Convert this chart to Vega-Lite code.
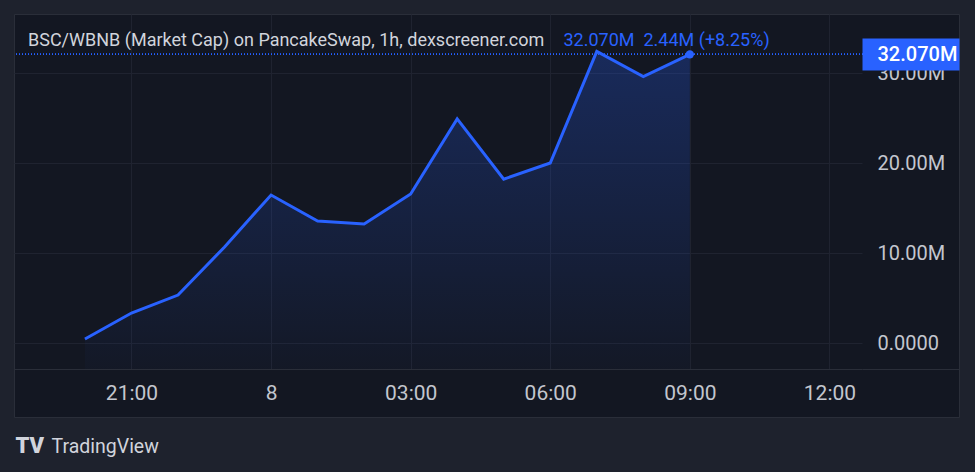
{
  "$schema": "https://vega.github.io/schema/vega-lite/v6.json",
  "width": 945,
  "height": 403,
  "autosize": "none",
  "padding": {"left": 14, "top": 14, "right": 16, "bottom": 55},
  "background": "#1e222d",
  "config": {
    "view": {"fill": "#131722", "stroke": "#2a2e39", "strokeWidth": 1},
    "font": "Roboto",
    "axis": {"labelFont": "Roboto", "titleFont": "Roboto"}
  },
  "title": {
    "text": "BSC/WBNB (Market Cap) on PancakeSwap, 1h, dexscreener.com",
    "anchor": "start",
    "frame": "group",
    "orient": "top",
    "offset": 0,
    "dx": 14,
    "dy": 50,
    "baseline": "alphabetic",
    "font": "Roboto",
    "fontSize": 18,
    "fontWeight": "normal",
    "color": "#d1d4dc"
  },
  "data": {
    "values": [
      {"t": "2024-03-07T20:00:00Z", "v": 440000},
      {"t": "2024-03-07T21:00:00Z", "v": 3330000},
      {"t": "2024-03-07T22:00:00Z", "v": 5330000},
      {"t": "2024-03-07T23:00:00Z", "v": 10670000},
      {"t": "2024-03-08T00:00:00Z", "v": 16440000},
      {"t": "2024-03-08T01:00:00Z", "v": 13560000},
      {"t": "2024-03-08T02:00:00Z", "v": 13220000},
      {"t": "2024-03-08T03:00:00Z", "v": 16560000},
      {"t": "2024-03-08T04:00:00Z", "v": 24900000},
      {"t": "2024-03-08T05:00:00Z", "v": 18200000},
      {"t": "2024-03-08T06:00:00Z", "v": 20000000},
      {"t": "2024-03-08T07:00:00Z", "v": 32400000},
      {"t": "2024-03-08T08:00:00Z", "v": 29600000},
      {"t": "2024-03-08T09:00:00Z", "v": 32070000}
    ]
  },
  "resolve": {"axis": {"y": "independent"}},
  "layer": [
    {
      "mark": {
        "type": "area",
        "line": false,
        "color": {
          "gradient": "linear",
          "x1": 0, "y1": 0, "x2": 0, "y2": 1,
          "stops": [
            {"offset": 0, "color": "rgba(41,98,255,0.26)"},
            {"offset": 1, "color": "rgba(41,98,255,0.02)"}
          ]
        }
      },
      "encoding": {
        "x": {
          "field": "t", "type": "temporal",
          "scale": {
            "type": "utc",
            "domain": [
              {"year": 2024, "month": 3, "date": 7, "hours": 18, "minutes": 28, "seconds": 30, "utc": true},
              {"year": 2024, "month": 3, "date": 8, "hours": 12, "minutes": 42, "seconds": 0, "utc": true}
            ],
            "range": [0, 848]
          },
          "axis": {
            "orient": "top",
            "values": [
              {"year": 2024, "month": 3, "date": 7, "hours": 21, "utc": true},
              {"year": 2024, "month": 3, "date": 8, "hours": 0, "utc": true},
              {"year": 2024, "month": 3, "date": 8, "hours": 3, "utc": true},
              {"year": 2024, "month": 3, "date": 8, "hours": 6, "utc": true},
              {"year": 2024, "month": 3, "date": 8, "hours": 9, "utc": true},
              {"year": 2024, "month": 3, "date": 8, "hours": 12, "utc": true}
            ],
            "labelExpr": "utchours(datum.value) == 0 ? utcFormat(datum.value, '%-d') : utcFormat(datum.value, '%H:%M')",
            "labelFontSize": 21,
            "labelColor": "#c3c6ce",
            "labelBaseline": "middle",
            "labelPadding": -379,
            "labelFlush": false,
            "labelOverlap": false,
            "ticks": false,
            "tickSize": 0,
            "domain": false,
            "grid": true,
            "gridColor": "#1f2330",
            "gridWidth": 1,
            "title": "TradingView",
            "titleX": 37,
            "titleY": 438,
            "titleAlign": "left",
            "titleBaseline": "alphabetic",
            "titleAnchor": null,
            "titleFontSize": 19.5,
            "titleFontWeight": "normal",
            "titleColor": "#d1d4dc"
          }
        },
        "y": {
          "field": "v", "type": "quantitative",
          "scale": {"domain": [-2888889, 36555556], "range": [355, 0], "nice": false, "zero": false},
          "axis": {
            "orient": "left",
            "values": [-2888889, 0, 10000000, 20000000, 30000000],
            "labelExpr": "datum.value < 0 ? '' : datum.value == 0 ? '0.0000' : format(datum.value / 1000000, '.2f') + 'M'",
            "labelFontSize": 20,
            "labelColor": "#c3c6ce",
            "labelAlign": "left",
            "labelBaseline": "middle",
            "labelPadding": -863,
            "labelFlush": false,
            "labelOverlap": false,
            "ticks": false,
            "tickSize": 0,
            "domain": false,
            "grid": true,
            "gridColor": {"condition": {"test": "datum.value < 0", "value": "#2a2e39"}, "value": "#1f2330"},
            "gridWidth": 1,
            "title": "TV",
            "titleX": 1,
            "titleY": 438,
            "titleAngle": 0,
            "titleAlign": "left",
            "titleBaseline": "alphabetic",
            "titleAnchor": null,
            "titleFontSize": 22,
            "titleFontWeight": 900,
            "titleColor": "#d1d4dc"
          }
        },
        "y2": {"datum": -2888889}
      }
    },
    {
      "mark": {"type": "line", "color": "#2962ff", "strokeWidth": 3, "strokeJoin": "miter"},
      "encoding": {
        "x": {"field": "t", "type": "temporal",
          "scale": {
            "type": "utc",
            "domain": [
              {"year": 2024, "month": 3, "date": 7, "hours": 18, "minutes": 28, "seconds": 30, "utc": true},
              {"year": 2024, "month": 3, "date": 8, "hours": 12, "minutes": 42, "seconds": 0, "utc": true}
            ],
            "range": [0, 848]
          }},
        "y": {"field": "v", "type": "quantitative", "axis": null,
          "scale": {"domain": [-2888889, 36555556], "range": [355, 0], "nice": false, "zero": false}}
      }
    },
    {
      "transform": [{"filter": "datum.v == 32070000"}],
      "mark": {"type": "circle", "color": "#2962ff", "opacity": 1, "size": 70},
      "encoding": {
        "x": {"field": "t", "type": "temporal",
          "scale": {
            "type": "utc",
            "domain": [
              {"year": 2024, "month": 3, "date": 7, "hours": 18, "minutes": 28, "seconds": 30, "utc": true},
              {"year": 2024, "month": 3, "date": 8, "hours": 12, "minutes": 42, "seconds": 0, "utc": true}
            ],
            "range": [0, 848]
          }},
        "y": {"field": "v", "type": "quantitative", "axis": null,
          "scale": {"domain": [-2888889, 36555556], "range": [355, 0], "nice": false, "zero": false}}
      }
    },
    {
      "mark": {"type": "rule", "color": "#2962ff", "strokeWidth": 1, "strokeDash": [1, 2]},
      "encoding": {
        "y": {
          "datum": 32070000, "type": "quantitative",
          "scale": {"domain": [-2888889, 36555556], "range": [355, 0], "nice": false, "zero": false},
          "axis": {
            "orient": "right",
            "offset": -97,
            "values": [32070000, -2888889],
            "zindex": 1,
            "labelExpr": "datum.value < 0 ? '' : format(datum.value / 1000000, '.3f') + 'M'",
            "labelFontSize": 20,
            "labelFontWeight": 500,
            "labelColor": "#ffffff",
            "labelAlign": "left",
            "labelBaseline": "middle",
            "labelPadding": -82,
            "labelFlush": false,
            "labelOverlap": false,
            "ticks": true,
            "tickSize": 97,
            "tickWidth": {"condition": {"test": "datum.value < 0", "value": 1}, "value": 32},
            "tickColor": {"condition": {"test": "datum.value < 0", "value": "#2a2e39"}, "value": "#2962ff"},
            "tickCap": "butt",
            "domain": false,
            "grid": false,
            "title": "32.070M\u00a0 2.44M (+8.25%)",
            "titleX": -299,
            "titleY": 31,
            "titleAngle": 0,
            "titleAlign": "left",
            "titleBaseline": "alphabetic",
            "titleAnchor": null,
            "titleFontSize": 18,
            "titleFontWeight": "normal",
            "titleColor": "#2962ff"
          }
        }
      }
    }
  ]
}
